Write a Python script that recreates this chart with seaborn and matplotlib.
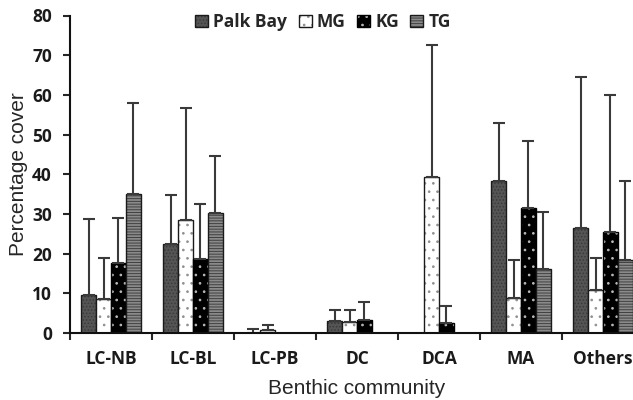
import numpy as np
import pandas as pd
import seaborn as sns
import matplotlib.pyplot as plt
import matplotlib.colors as mcolors
from matplotlib.patches import Patch

# data: mean cover and SD (upper error bar only)
communities = ['LC-NB', 'LC-BL', 'LC-PB', 'DC', 'DCA', 'MA', 'Others']
sites = ['Palk Bay', 'MG', 'KG', 'TG']

palk_bay = [9.5, 22.4, 0.1, 3.1, 0.0, 38.4, 26.5]
mg = [8.5, 28.4, 0.8, 2.7, 39.4, 8.9, 10.8]
kg = [17.6, 18.6, 0.0, 3.4, 2.6, 31.4, 25.5]
tg = [35.0, 30.2, 0.0, 0.0, 0.0, 16.2, 18.5]

palk_bay_sd = [19.1, 12.3, 0.8, 2.7, 0.0, 14.5, 37.9]
mg_sd = [10.4, 28.4, 1.2, 3.1, 33.1, 9.6, 8.0]
kg_sd = [11.5, 13.8, 0.0, 4.3, 4.3, 17.1, 34.4]
tg_sd = [23.0, 14.5, 0.0, 0.0, 0.0, 14.4, 19.7]

means = {'Palk Bay': palk_bay, 'MG': mg, 'KG': kg, 'TG': tg}
sds = {'Palk Bay': palk_bay_sd, 'MG': mg_sd, 'KG': kg_sd, 'TG': tg_sd}

rows = []
for s in sites:
    for c, m, e in zip(communities, means[s], sds[s]):
        rows.append({'community': c, 'site': s, 'cover': m, 'sd': e})
df = pd.DataFrame(rows)

# fill, outline, hatch, hatch colour per site
styles = {
    'Palk Bay': ('#555555', '#1a1a1a', '.....', '#3a3a3a'),
    'MG': ('#ffffff', '#1a1a1a', '..', '#909090'),
    'KG': ('#000000', '#000000', '..', '#bbbbbb'),
    'TG': ('#8a8a8a', '#1a1a1a', '------', '#404040'),
}


def apply_style(patch, site):
    fc, ec, hatch, hc = styles[site]
    patch.set_facecolor(fc)
    patch.set_edgecolor(ec)
    patch.set_hatch(hatch)
    patch.set_linewidth(1.0)
    patch._hatch_color = mcolors.to_rgba(hc)


sns.set_style('ticks')
plt.rcParams['hatch.linewidth'] = 0.7
tick_font = {'family': 'Open Sans', 'weight': 'bold', 'size': 12.5}
label_font = {'family': 'Liberation Sans', 'size': 15}

fig = plt.figure(figsize=(6.33, 4), dpi=100)
ax = fig.add_axes([70 / 633, 67 / 400, 574 / 633, 317.5 / 400])

sns.barplot(data=df, x='community', y='cover', hue='site', order=communities,
            hue_order=sites, width=0.73, errorbar=None, legend=False, ax=ax)

for cont, s in zip(ax.containers, sites):
    sub = df[df['site'] == s].set_index('community').loc[communities]
    xs, ys, es = [], [], []
    for bar, m, e in zip(cont, sub['cover'], sub['sd']):
        apply_style(bar, s)
        if e > 0:
            xs.append(bar.get_x() + bar.get_width() / 2)
            ys.append(m)
            es.append(e)
    ax.errorbar(xs, ys, yerr=[np.zeros(len(es)), es], fmt='none',
                ecolor='#3a3a3a', elinewidth=1.5, capsize=4.5, capthick=1.5,
                zorder=1)

ax.set_xlim(-0.5, 6.5)
ax.set_ylim(0, 80)
ax.set_yticks(range(0, 81, 10))
ax.set_xticks(np.arange(-0.5, 6.6, 1), minor=True)
ax.tick_params(axis='x', which='major', length=0, pad=12)
ax.tick_params(axis='x', which='minor', length=5, width=1.5, direction='out')
ax.tick_params(axis='y', length=5, width=1.5, direction='out', pad=8)
for lab in ax.get_xticklabels() + ax.get_yticklabels():
    lab.set_fontproperties(tick_font)
    lab.set_color('#1a1a1a')

for side in ['top', 'right']:
    ax.spines[side].set_visible(False)
for side in ['left', 'bottom']:
    ax.spines[side].set_linewidth(1.5)
    ax.spines[side].set_color('#111111')

ax.set_xlabel('Benthic community', fontdict=label_font, labelpad=8)
ax.set_ylabel('Percentage cover', fontdict=label_font, labelpad=3)

handles = []
for s in sites:
    p = Patch(label=s)
    apply_style(p, s)
    handles.append(p)
ax.legend(handles=handles, loc='center', bbox_to_anchor=(323 / 633, 1 - 22 / 400),
          bbox_transform=fig.transFigure, ncol=4, frameon=False,
          handlelength=0.75, handleheight=0.75, handletextpad=0.3,
          columnspacing=0.65, prop=tick_font)

fig.savefig('out.png', dpi=100)
